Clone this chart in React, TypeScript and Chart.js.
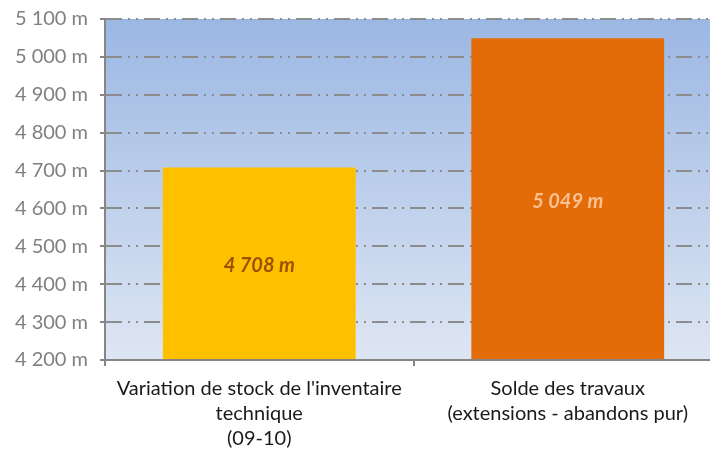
import React, { useEffect, useRef } from "react";
import { Chart, registerables } from "chart.js";

Chart.register(...registerables);

const categories: string[][] = [
  ["Variation de stock de l'inventaire", "technique", "(09-10)"],
  ["Solde des travaux", "(extensions - abandons pur)"],
];
const values: number[] = [4708, 5049];
const barColors: string[] = ["#FFC000", "#E36C09"];
const labelColors: string[] = ["#9A5200", "#FAC090"];
const yMin = 4200;
const yMax = 5100;
const yStep = 100;

const fmt = (v: number) => {
  const s = Math.round(v).toString();
  return s.replace(/\B(?=(\d{3})+(?!\d))/g, " ") + " m";
};

const FONT = "Lato, 'Open Sans', sans-serif";

const bgPlugin = {
  id: "bgGradient",
  beforeDraw(chart: any) {
    const { ctx, chartArea } = chart;
    if (!chartArea) return;
    const g = ctx.createLinearGradient(0, chartArea.top, 0, chartArea.bottom);
    g.addColorStop(0, "#9BB7E3");
    g.addColorStop(1, "#DEE6F3");
    ctx.save();
    ctx.fillStyle = g;
    ctx.fillRect(chartArea.left, chartArea.top, chartArea.right - chartArea.left, chartArea.bottom - chartArea.top);
    ctx.restore();
  },
};

const labelPlugin = {
  id: "barLabels",
  afterDraw(chart: any) {
    const ctx = chart.ctx;
    const xs = chart.scales.x;
    const ys = chart.scales.y;
    ctx.save();
    ctx.font = `italic bold 20px ${FONT}`;
    ctx.textAlign = "center";
    ctx.textBaseline = "middle";
    values.forEach((v, i) => {
      const x = xs.getPixelForValue(i);
      const top = ys.getPixelForValue(v);
      const base = ys.getPixelForValue(yMin);
      ctx.fillStyle = labelColors[i];
      ctx.fillText(fmt(v), x, (top + base) / 2 + 2);
    });
    ctx.restore();
  },
};

export default function App() {
  const ref = useRef<HTMLCanvasElement>(null);
  useEffect(() => {
    if (!ref.current) return;
    const chart = new Chart(ref.current, {
      type: "bar",
      data: {
        labels: categories,
        datasets: [
          {
            data: values,
            backgroundColor: barColors,
            borderWidth: 0,
            categoryPercentage: 1,
            barPercentage: 0.625,
          },
        ],
      },
      options: {
        responsive: false,
        animation: false,
        devicePixelRatio: 1,
        layout: { padding: { top: 19, left: 0, right: 0, bottom: 0 } },
        plugins: {
          legend: { display: false },
          tooltip: { enabled: false },
        },
        scales: {
          x: {
            offset: true,
            grid: {
              display: true,
              offset: true,
              drawOnChartArea: false,
              drawTicks: true,
              tickLength: 6,
              color: "#868686",
              lineWidth: 2,
            },
            border: { display: true, color: "#868686", width: 2, z: 1 },
            ticks: {
              color: "#1A1A1A",
              font: { family: FONT, size: 20, lineHeight: 1.25 },
              padding: 10,
              maxRotation: 0,
              autoSkip: false,
            },
            afterFit(scale: any) {
              scale.height = 94;
            },
          },
          y: {
            min: yMin,
            max: yMax,
            ticks: {
              stepSize: yStep,
              color: "#808080",
              font: { family: FONT, size: 20 },
              padding: 12,
              callback: (v: any) => fmt(Number(v)),
            },
            grid: {
              color: "#8C8C8C",
              lineWidth: 2,
              tickBorderDash: [],
              tickColor: "#868686",
              tickWidth: 2,
              tickLength: 5,
            },
            border: { display: true, color: "#868686", width: 2, z: 1, dash: [16, 6, 2, 6, 2, 6] },
            afterFit(scale: any) {
              scale.width = 105;
              scale.paddingTop = 0;
              scale.paddingBottom = 0;
            },
          },
        },
      },
      plugins: [bgPlugin, labelPlugin],
    });
    return () => chart.destroy();
  }, []);
  return (
    <div style={{ position: "fixed", left: 0, top: 0, width: 710, height: 454, overflow: "hidden", background: "#fff" }}>
      <canvas ref={ref} width={722} height={454} style={{ display: "block" }} />
    </div>
  );
}
